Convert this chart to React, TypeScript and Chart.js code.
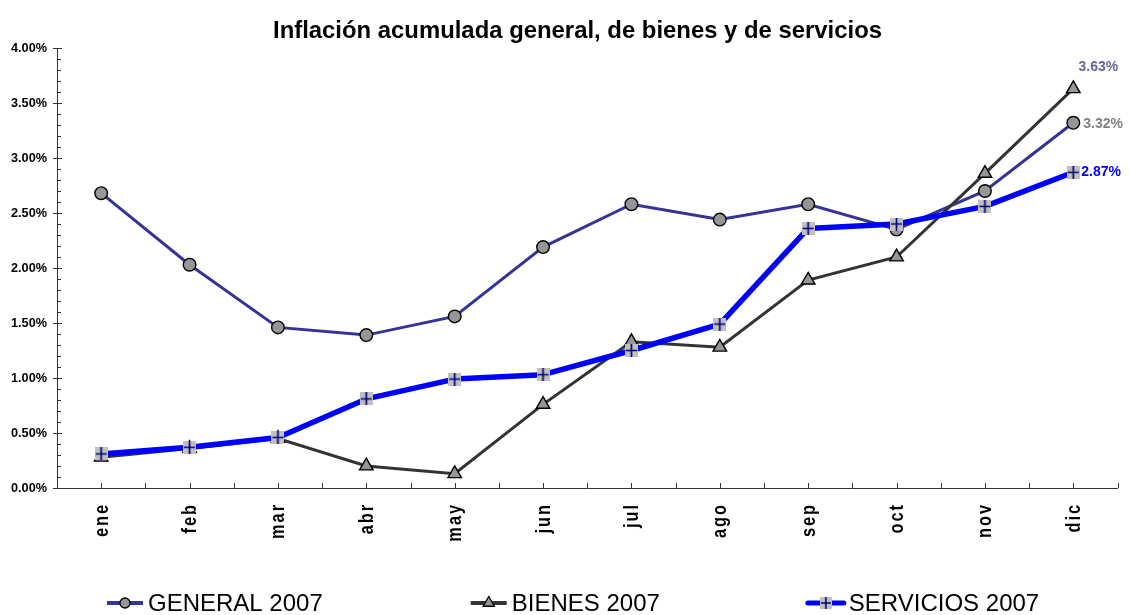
import React, { useEffect, useRef } from "react";
import { Chart, registerables } from "chart.js";

Chart.register(...registerables);

// ---------- data ----------
const MONTHS = ["ene", "feb", "mar", "abr", "may", "jun", "jul", "ago", "sep", "oct", "nov", "dic"];
const GENERAL_2007 = [2.68, 2.03, 1.46, 1.39, 1.56, 2.19, 2.58, 2.44, 2.58, 2.35, 2.70, 3.32];
const BIENES_2007 = [0.28, 0.36, 0.45, 0.20, 0.13, 0.76, 1.33, 1.28, 1.89, 2.10, 2.86, 3.63];
const SERVICIOS_2007 = [0.31, 0.37, 0.46, 0.81, 0.99, 1.03, 1.25, 1.49, 2.36, 2.40, 2.56, 2.87];
const SERIES_LABELS = ["GENERAL 2007", "BIENES 2007", "SERVICIOS 2007"];
const Y_MIN = 0;
const Y_MAX = 4;
const Y_STEP = 0.5;
const Y_MINOR_STEP = 0.1;
const TITLE = "Inflación acumulada general, de bienes y de servicios";

const FONT = '"Liberation Sans", Arial, sans-serif';

function makePlusSquare(size: number, lw: number) {
  const c = document.createElement("canvas");
  c.width = size;
  c.height = size;
  const g = c.getContext("2d")!;
  g.fillStyle = "#c0c0c0";
  g.fillRect(0, 0, size, size);
  g.strokeStyle = "#000080";
  g.lineWidth = lw;
  g.beginPath();
  g.moveTo(size / 2, 0);
  g.lineTo(size / 2, size);
  g.moveTo(1, size / 2);
  g.lineTo(size - 1, size / 2);
  g.stroke();
  return c;
}

type Kind = "circle" | "triangle" | "plus";

function drawMarker(ctx: CanvasRenderingContext2D, kind: Kind, x: number, y: number, r: number, img?: HTMLCanvasElement) {
  ctx.save();
  ctx.fillStyle = "#969696";
  ctx.strokeStyle = "#000";
  ctx.lineWidth = 1.3;
  if (kind === "circle") {
    ctx.beginPath();
    ctx.arc(x, y, r, 0, Math.PI * 2);
    ctx.fill();
    ctx.stroke();
  } else if (kind === "triangle") {
    ctx.beginPath();
    for (let i = 0; i < 3; i++) {
      const a = (i * 2 * Math.PI) / 3;
      const px = x + Math.sin(a) * r;
      const py = y - Math.cos(a) * r;
      if (i === 0) ctx.moveTo(px, py);
      else ctx.lineTo(px, py);
    }
    ctx.closePath();
    ctx.fill();
    ctx.stroke();
  } else if (img) {
    ctx.drawImage(img, x - img.width / 2, y - img.height / 2);
  }
  ctx.restore();
}

const SERIES_STYLE = [
  { color: "#333399", width: 3, kind: "circle" as Kind, labelColor: "#808080" },
  { color: "#333333", width: 3, kind: "triangle" as Kind, labelColor: "#666699" },
  { color: "#0000ff", width: 5.5, kind: "plus" as Kind, labelColor: "#0000ff" },
];

export default function App() {
  const ref = useRef<HTMLCanvasElement>(null);

  useEffect(() => {
    const plusBig = makePlusSquare(13, 1.7);
    const plusSmall = makePlusSquare(12, 1.6);

    const decorPlugin = {
      id: "decor",
      afterDraw(chart: any) {
        const ctx: CanvasRenderingContext2D = chart.ctx;
        const a = chart.chartArea;
        const xs = chart.scales.x;
        const ys = chart.scales.y;
        ctx.save();

        // y ticks (major crossing, minor inside)
        ctx.strokeStyle = "#333";
        ctx.lineWidth = 1;
        const nMinor = Math.round((Y_MAX - Y_MIN) / Y_MINOR_STEP);
        const perMajor = Math.round(Y_STEP / Y_MINOR_STEP);
        for (let i = 0; i <= nMinor; i++) {
          const v = Y_MIN + i * Y_MINOR_STEP;
          const py = Math.round(ys.getPixelForValue(v)) + 0.5;
          const major = i % perMajor === 0;
          ctx.beginPath();
          ctx.moveTo(a.left - (major ? 4 : 0), py);
          ctx.lineTo(a.left + (major ? 5 : 4), py);
          ctx.stroke();
        }
        // x ticks at centres and boundaries
        for (let i = 0; i <= MONTHS.length * 2; i++) {
          const px = Math.round(xs.getPixelForValue(i / 2 - 0.5)) + 0.5;
          ctx.beginPath();
          ctx.moveTo(px, a.bottom);
          ctx.lineTo(px, a.bottom - 5);
          ctx.stroke();
        }

        // x labels (rotated)
        ctx.fillStyle = "#000";
        ctx.font = `bold 21px ${FONT}`;
        ctx.textAlign = "right";
        ctx.textBaseline = "alphabetic";
        (ctx as any).letterSpacing = "2.5px";
        MONTHS.forEach((m, i) => {
          const px = xs.getPixelForValue(i);
          ctx.save();
          ctx.translate(px + 6.5, a.bottom + 15);
          ctx.rotate(-Math.PI / 2);
          ctx.scale(0.78, 1);
          ctx.fillText(m, 0, 0);
          ctx.restore();
        });
        (ctx as any).letterSpacing = "0px";

        // title
        ctx.font = `bold 24px ${FONT}`;
        const tw = ctx.measureText(TITLE).width;
        const k = Math.min(1, 609 / tw);
        ctx.save();
        ctx.translate(577.5, 38);
        ctx.scale(k, 1);
        ctx.textAlign = "center";
        ctx.fillText(TITLE, 0, 0);
        ctx.restore();

        // end labels
        ctx.font = `bold 14px ${FONT}`;
        ctx.textBaseline = "middle";
        const offsets = [
          { dx: 10, dy: 1, align: "left" },
          { dx: 25, dy: -22, align: "center" },
          { dx: 8, dy: 0, align: "left" },
        ];
        chart.data.datasets.forEach((ds: any, di: number) => {
          const meta = chart.getDatasetMeta(di);
          const last = meta.data[meta.data.length - 1];
          const val = ds.data[ds.data.length - 1];
          ctx.fillStyle = SERIES_STYLE[di].labelColor;
          ctx.textAlign = offsets[di].align as CanvasTextAlign;
          ctx.fillText(val.toFixed(2) + "%", last.x + offsets[di].dx, last.y + offsets[di].dy);
        });

        // legend
        ctx.font = `24px ${FONT}`;
        ctx.textAlign = "left";
        ctx.textBaseline = "alphabetic";
        let lx = 107;
        const ly = 603;
        chart.data.datasets.forEach((ds: any, di: number) => {
          const st = SERIES_STYLE[di];
          ctx.strokeStyle = st.color;
          ctx.lineWidth = di === 2 ? 5 : 4;
          ctx.lineCap = di === 2 ? "round" : "butt";
          ctx.beginPath();
          ctx.moveTo(lx, ly);
          ctx.lineTo(lx + 36, ly);
          ctx.stroke();
          drawMarker(ctx, st.kind, lx + 18, ly, st.kind === "circle" ? 5 : 6.5, plusSmall);
          ctx.fillStyle = "#000";
          ctx.fillText(ds.label, lx + 41, 611);
          lx += 41 + ctx.measureText(ds.label).width + 148;
        });

        ctx.restore();
      },
    };

    const chart = new Chart(ref.current!, {
      type: "line",
      data: {
        labels: MONTHS,
        datasets: [
          {
            label: SERIES_LABELS[0],
            data: GENERAL_2007,
            borderColor: SERIES_STYLE[0].color,
            borderWidth: SERIES_STYLE[0].width,
            pointStyle: "circle",
            pointRadius: 6.3,
            pointBackgroundColor: "#969696",
            pointBorderColor: "#000",
            pointBorderWidth: 1.4,
            order: 2,
            tension: 0,
          },
          {
            label: SERIES_LABELS[1],
            data: BIENES_2007,
            borderColor: SERIES_STYLE[1].color,
            borderWidth: SERIES_STYLE[1].width,
            pointStyle: "triangle",
            pointRadius: 7.8,
            pointBackgroundColor: "#969696",
            pointBorderColor: "#000",
            pointBorderWidth: 1.4,
            order: 1,
            tension: 0,
          },
          {
            label: SERIES_LABELS[2],
            data: SERVICIOS_2007,
            borderColor: SERIES_STYLE[2].color,
            borderWidth: SERIES_STYLE[2].width,
            borderJoinStyle: "round",
            pointStyle: plusBig as any,
            pointRadius: 6,
            order: 0,
            tension: 0,
          },
        ],
      },
      options: {
        responsive: false,
        animation: false,
        events: [],
        layout: { padding: { top: 48, right: 8, left: 0, bottom: 0 } },
        plugins: {
          legend: { display: false },
          title: { display: false },
          tooltip: { enabled: false },
        },
        scales: {
          x: {
            type: "category",
            offset: true,
            grid: { display: false, drawTicks: false },
            border: { display: true, color: "#333", width: 1 },
            ticks: { display: false },
            afterFit: (s: any) => {
              s.height = 127;
            },
          },
          y: {
            min: Y_MIN,
            max: Y_MAX,
            grid: { display: false, drawTicks: false },
            border: { display: true, color: "#333", width: 1 },
            ticks: {
              stepSize: Y_STEP,
              padding: 10,
              color: "#000",
              font: { family: FONT, size: 12.7, weight: "bold" },
              callback: (v: any) => Number(v).toFixed(2) + "%",
            },
            afterFit: (s: any) => {
              s.width = 57;
            },
          },
        },
      },
      plugins: [decorPlugin],
    } as any);

    return () => chart.destroy();
  }, []);

  return (
    <div style={{ position: "fixed", left: 0, top: 0, width: 1129, height: 615, background: "#fff" }}>
      <canvas ref={ref} width={1129} height={615} />
    </div>
  );
}
